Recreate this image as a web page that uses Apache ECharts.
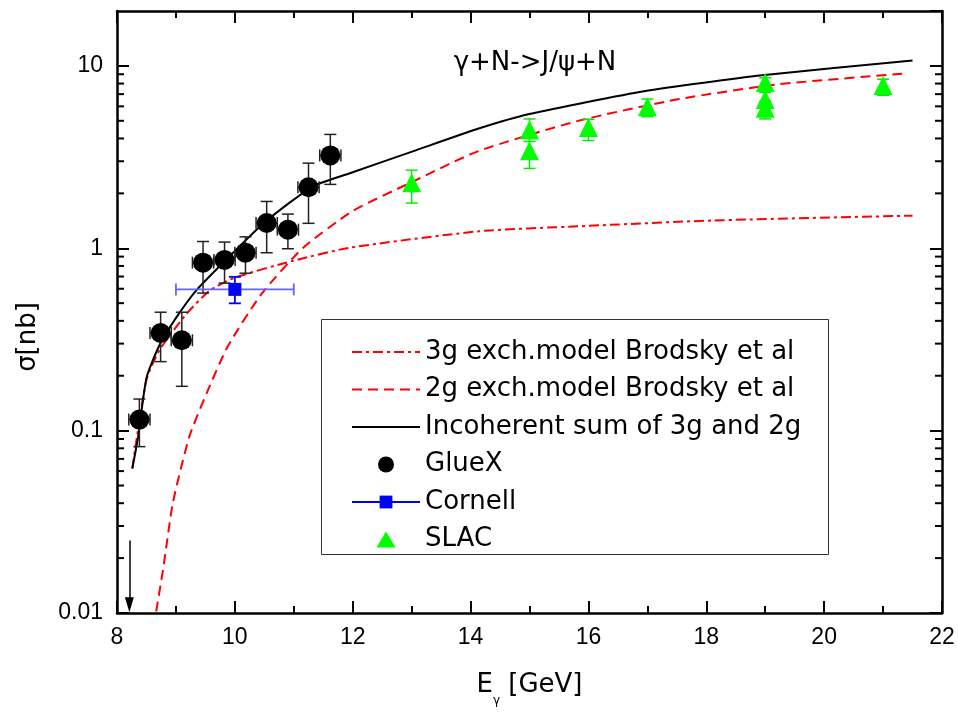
<!DOCTYPE html>
<html>
<head>
<meta charset="utf-8">
<script src="https://cdn.jsdelivr.net/npm/echarts@6/dist/echarts.min.js"></script>
<style>
  html, body { margin: 0; padding: 0; background: #fff; }
  #chart { width: 958px; height: 712px; }
</style>
</head>
<body>
<div id="chart"></div>
<script>
// model curves
var g3X = [8.26, 8.50, 8.72, 9.18, 9.57, 10.0, 10.98, 11.94, 14.15, 15.84, 18.1, 21.5];
var g3Y = [0.062, 0.19, 0.276, 0.437, 0.585, 0.69, 0.852, 1.006, 1.24, 1.32, 1.42, 1.51];
var g2X = [8.665, 8.78, 8.95, 9.23, 9.52, 9.88, 10.45, 11.15, 12.0, 13.02, 14.12, 15.84, 17.54, 19.23, 21.4];
var g2Y = [0.0102, 0.0172, 0.0405, 0.0933, 0.160, 0.29, 0.56, 1.0, 1.6, 2.32, 3.40, 5.01, 6.58, 7.93, 9.1];
var sumX = [8.26, 8.36, 8.50, 8.72, 9.01, 9.35, 9.97, 10.53, 11.32, 11.94, 13.02, 14.15, 15.0, 16.97, 18.95, 21.5];
var sumY = [0.062, 0.093, 0.194, 0.294, 0.419, 0.59, 0.945, 1.41, 2.18, 2.57, 3.40, 4.55, 5.45, 7.29, 8.88, 10.7];

// GlueX
var gluexX = [8.38, 8.74, 9.10, 9.46, 9.825, 10.18, 10.54, 10.90, 11.25, 11.62];
var gluexY = [0.115, 0.343, 0.313, 0.834, 0.863, 0.946, 1.376, 1.265, 2.16, 3.23];
var gluexLo = [0.0817, 0.239, 0.175, 0.568, 0.644, 0.730, 0.945, 0.994, 1.37, 2.24];
var gluexHi = [0.149, 0.446, 0.446, 1.089, 1.081, 1.155, 1.806, 1.54, 2.93, 4.21];
var gluexXErr = [0.18, 0.18, 0.18, 0.18, 0.18, 0.18, 0.18, 0.18, 0.18, 0.18];

// Cornell
var cornellX = [10.0];
var cornellY = [0.595];
var cornellLo = [0.499];
var cornellHi = [0.697];
var cornellXErr = [1.0];

// SLAC
var slacX = [13, 15, 15, 16, 17, 19, 19, 19, 21];
var slacY = [2.29, 4.47, 3.43, 4.6, 5.97, 8.1, 6.55, 5.85, 7.8];
var slacLo = [1.77, 3.85, 2.74, 3.9, 5.27, 7.6, 6.0, 5.12, 6.9];
var slacHi = [2.68, 5.12, 4.05, 5.1, 6.58, 8.6, 7.15, 6.4, 8.45];

// threshold arrow
var arrowX = 8.21;
var arrowFrom = 0.025;
var arrowTo = 0.0111;

// log minor ticks
var yMinor = [0.02, 0.03, 0.04, 0.05, 0.06, 0.07, 0.08, 0.09,
              0.2, 0.3, 0.4, 0.5, 0.6, 0.7, 0.8, 0.9,
              2, 3, 4, 5, 6, 7, 8, 9];

var seriesNames = ['3g exch.model Brodsky et al', '2g exch.model Brodsky et al',
                   'Incoherent sum of 3g and 2g', 'GlueX', 'Cornell', 'SLAC'];

var TXT = 'DejaVu Sans';
var TICK = 'Liberation Sans';

function zip(xs, ys) {
    var out = [];
    for (var i = 0; i < xs.length; i++) out.push([xs[i], ys[i]]);
    return out;
}

function errRows(xs, ys, lo, hi, xe) {
    var out = [];
    for (var i = 0; i < xs.length; i++) out.push([xs[i], ys[i], lo[i], hi[i], xe ? xe[i] : 0]);
    return out;
}

// error bars with caps, drawn through the axis scales
function errBars(vColor, hColor, width) {
    return function (params, api) {
        var x = api.value(0), y = api.value(1), lo = api.value(2), hi = api.value(3), xe = api.value(4);
        var c = 6;
        var pLo = api.coord([x, lo]);
        var pHi = api.coord([x, hi]);
        var vs = {stroke: vColor, lineWidth: width};
        var hs = {stroke: hColor, lineWidth: width};
        var kids = [
            {type: 'line', shape: {x1: pLo[0], y1: pLo[1], x2: pHi[0], y2: pHi[1]}, style: vs},
            {type: 'line', shape: {x1: pLo[0] - c, y1: pLo[1], x2: pLo[0] + c, y2: pLo[1]}, style: vs},
            {type: 'line', shape: {x1: pHi[0] - c, y1: pHi[1], x2: pHi[0] + c, y2: pHi[1]}, style: vs}
        ];
        if (xe > 0) {
            var pL = api.coord([x - xe, y]);
            var pR = api.coord([x + xe, y]);
            kids.push({type: 'line', shape: {x1: pL[0], y1: pL[1], x2: pR[0], y2: pR[1]}, style: hs});
            kids.push({type: 'line', shape: {x1: pL[0], y1: pL[1] - c, x2: pL[0], y2: pL[1] + c}, style: hs});
            kids.push({type: 'line', shape: {x1: pR[0], y1: pR[1] - c, x2: pR[0], y2: pR[1] + c}, style: hs});
        }
        return {type: 'group', children: kids};
    };
}

var chart = echarts.init(document.getElementById('chart'));

var xAxisBase = {
    type: 'value', min: 8, max: 22, interval: 2,
    axisLine: {show: true, lineStyle: {color: '#000', width: 2.5}},
    axisTick: {show: true, inside: true, length: 12, lineStyle: {color: '#000', width: 2}},
    minorTick: {show: true, splitNumber: 2, length: 7, lineStyle: {color: '#000', width: 2}},
    splitLine: {show: false}
};
var yAxisBase = {
    type: 'log', logBase: 10, min: 0.01, max: 20,
    axisLine: {show: true, lineStyle: {color: '#000', width: 2.5}},
    axisTick: {show: true, inside: true, length: 12, lineStyle: {color: '#000', width: 2}},
    splitLine: {show: false}
};

var option = {
    animation: false,
    backgroundColor: '#fff',
    grid: {left: 117, right: 16, top: 11, bottom: 94},
    legend: {
        data: [
            {name: seriesNames[0], itemStyle: {opacity: 0}},
            {name: seriesNames[1], itemStyle: {opacity: 0}},
            {name: seriesNames[2], itemStyle: {opacity: 0}},
            {name: seriesNames[3], icon: 'circle'},
            {name: seriesNames[4]},
            {name: seriesNames[5], icon: 'path://M9,0 L18,15 L0,15 Z'}
        ],
        orient: 'vertical',
        left: 351, top: 339,
        padding: 0,
        itemWidth: 68, itemHeight: 16, itemGap: 11.5,
        symbolKeepAspect: true,
        selectedMode: false,
        textStyle: {fontFamily: TXT, fontSize: 26, color: '#000'}
    },
    graphic: [
        {type: 'rect', shape: {x: 321.5, y: 319.5, width: 507, height: 235},
         style: {fill: 'none', stroke: '#333', lineWidth: 1}, z: 1},
        {type: 'text', x: 535, y: 63,
         style: {text: 'γ+N->J/ψ+N', font: '26px "DejaVu Sans"', fill: '#000', align: 'center', verticalAlign: 'middle'}},
        {type: 'text', x: 28, y: 337, rotation: Math.PI / 2,
         style: {text: 'σ[nb]', font: '26px "DejaVu Sans"', fill: '#000', align: 'center', verticalAlign: 'middle'}}
    ],
    xAxis: [
        Object.assign({}, xAxisBase, {
            position: 'bottom',
            name: '{a|E}{b|γ}{a| [GeV]}',
            nameLocation: 'middle', nameGap: 50,
            nameTextStyle: {
                rich: {
                    a: {fontFamily: TXT, fontSize: 26, color: '#000', lineHeight: 44, verticalAlign: 'middle'},
                    b: {fontFamily: TXT, fontSize: 12, color: '#000', lineHeight: 44, verticalAlign: 'bottom'}
                }
            },
            axisLabel: {margin: 13, fontFamily: TICK, fontSize: 23, color: '#000'}
        }),
        Object.assign({}, xAxisBase, {position: 'top', axisLabel: {show: false}})
    ],
    yAxis: [
        Object.assign({}, yAxisBase, {
            position: 'left',
            axisLabel: {margin: 14, fontFamily: TICK, fontSize: 23, color: '#000', showMaxLabel: false}
        }),
        Object.assign({}, yAxisBase, {position: 'right', axisLabel: {show: false}})
    ],
    series: [
        {
            name: 'minor ticks', type: 'custom', silent: true,
            data: zip(yMinor.map(function () { return 8; }), yMinor),
            encode: {x: 0, y: 1},
            renderItem: function (params, api) {
                var v = api.value(1);
                var l = api.coord([8, v]);
                var r = api.coord([22, v]);
                var st = {stroke: '#000', lineWidth: 2};
                return {type: 'group', children: [
                    {type: 'line', shape: {x1: l[0], y1: l[1], x2: l[0] + 7, y2: l[1]}, style: st},
                    {type: 'line', shape: {x1: r[0] - 7, y1: r[1], x2: r[0], y2: r[1]}, style: st}
                ]};
            }
        },
        {
            name: seriesNames[0], type: 'line', data: zip(g3X, g3Y),
            symbol: 'none', smooth: 0.2, z: 3,
            lineStyle: {color: '#ff0000', width: 2, type: [10, 4, 3, 4]},
            itemStyle: {color: '#ff0000'},
            markLine: {
                silent: true, animation: false,
                label: {show: false},
                lineStyle: {color: '#000', width: 1.5, type: 'solid'},
                data: [[
                    {coord: [arrowX, arrowFrom], symbol: 'none'},
                    {coord: [arrowX, arrowTo], symbol: 'triangle', symbolSize: [9, 15]}
                ]]
            }
        },
        {
            name: seriesNames[1], type: 'line', data: zip(g2X, g2Y),
            symbol: 'none', smooth: 0.2, z: 3,
            lineStyle: {color: '#ff0000', width: 2, type: [10, 6]},
            itemStyle: {color: '#ff0000'}
        },
        {
            name: seriesNames[2], type: 'line', data: zip(sumX, sumY),
            symbol: 'none', smooth: 0.2, z: 4,
            lineStyle: {color: '#000', width: 2},
            itemStyle: {color: '#000'}
        },
        {
            name: 'GlueX err', type: 'custom', silent: true, z: 5,
            data: errRows(gluexX, gluexY, gluexLo, gluexHi, gluexXErr),
            encode: {x: 0, y: 1},
            renderItem: errBars('#222', '#222', 1.5)
        },
        {
            name: 'Cornell err', type: 'custom', silent: true, z: 5,
            data: errRows(cornellX, cornellY, cornellLo, cornellHi, cornellXErr),
            encode: {x: 0, y: 1},
            renderItem: errBars('#0000ff', '#6464ff', 1.8)
        },
        {
            name: 'SLAC err', type: 'custom', silent: true, z: 5,
            data: errRows(slacX, slacY, slacLo, slacHi, null),
            encode: {x: 0, y: 1},
            renderItem: errBars('#00ee00', '#00ee00', 1.5)
        },
        {
            name: seriesNames[3], type: 'scatter', data: zip(gluexX, gluexY),
            symbol: 'circle', symbolSize: 20, z: 6,
            itemStyle: {color: '#000', opacity: 1}
        },
        {
            name: seriesNames[4], type: 'line', data: zip(cornellX, cornellY),
            symbol: 'rect', symbolSize: 13, showSymbol: true, z: 6,
            lineStyle: {color: '#0000ff', width: 1.5},
            itemStyle: {color: '#0000ff', opacity: 1}
        },
        {
            name: seriesNames[5], type: 'scatter', data: zip(slacX, slacY),
            symbol: 'triangle', symbolSize: 19, z: 6,
            itemStyle: {color: '#00ff00', opacity: 1}
        }
    ]
};

chart.setOption(option);
</script>
</body>
</html>
